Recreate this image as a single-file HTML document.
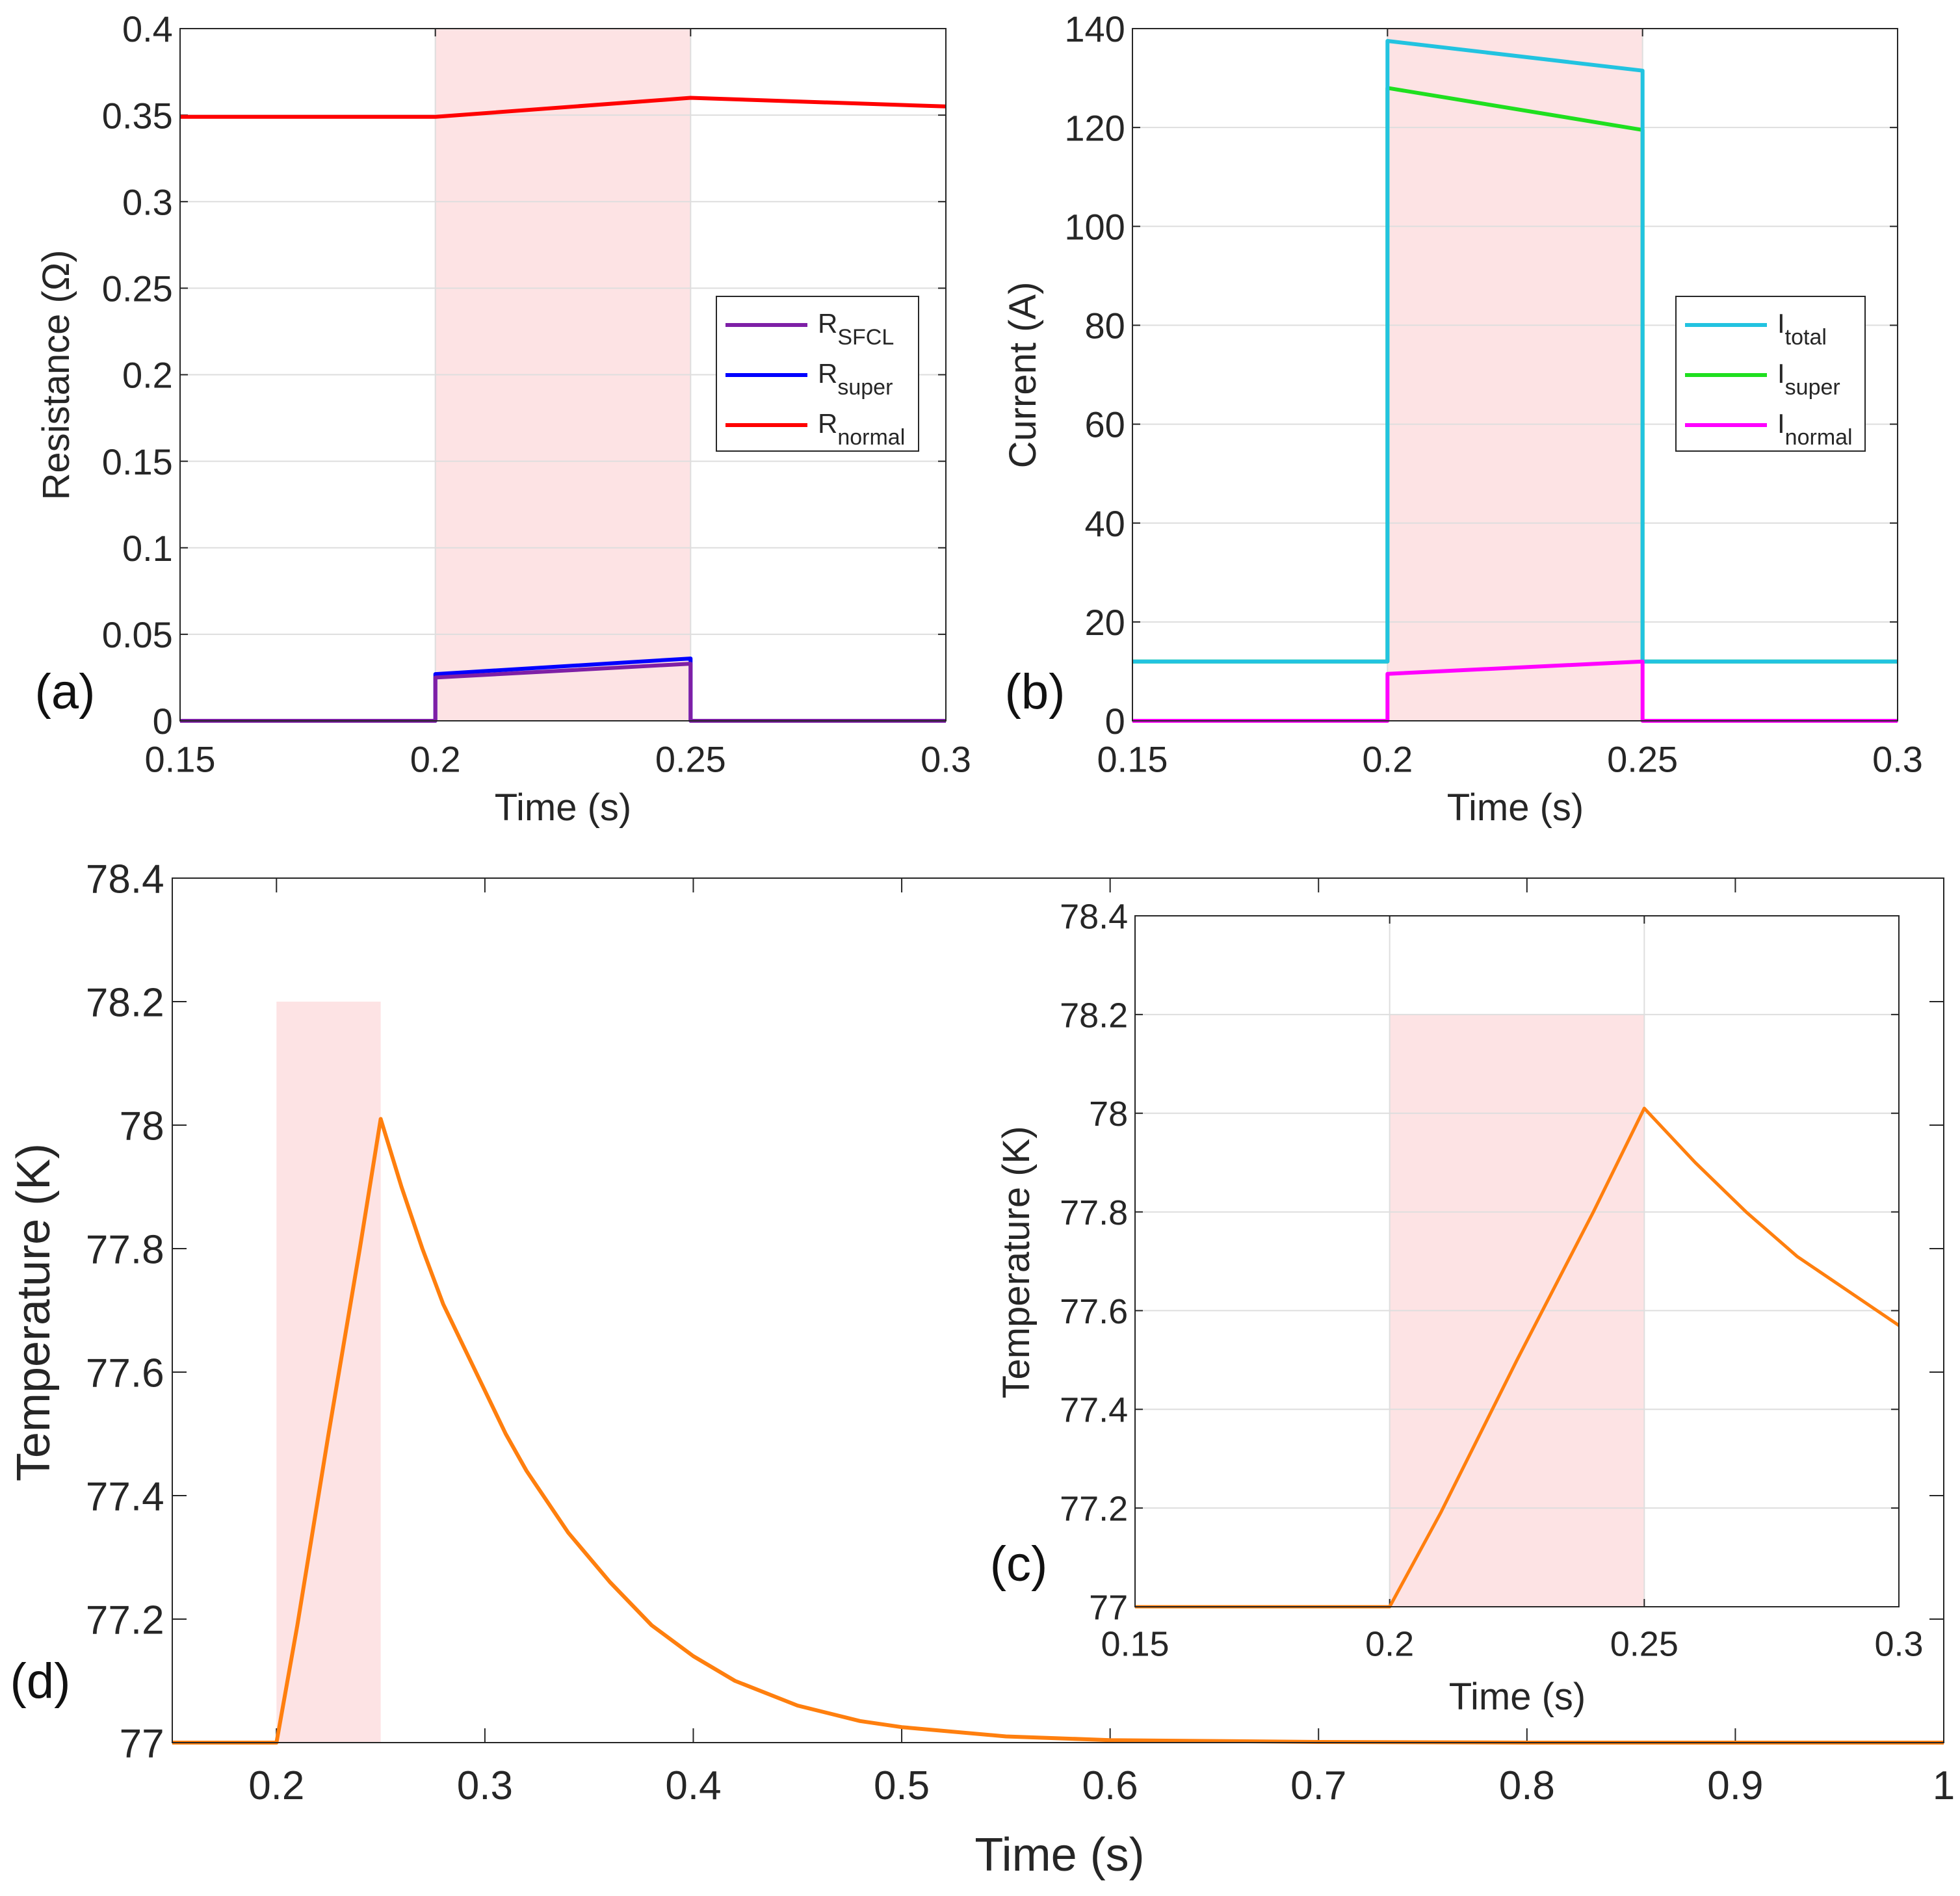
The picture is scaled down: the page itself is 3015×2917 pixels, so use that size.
<!DOCTYPE html>
<html><head><meta charset="utf-8">
<style>
html,body{margin:0;padding:0;background:#fff;}
svg{display:block;font-family:"Liberation Sans",Arial,sans-serif;}
</style></head>
<body>
<svg id="fig" width="3015" height="2917" viewBox="0 0 3015 2917" xmlns="http://www.w3.org/2000/svg"></svg>
<script>
// ---- data ----
const aTime = [0.15, 0.2, 0.2, 0.25, 0.25, 0.3];
const aRnormal = [0.349, 0.349, 0.349, 0.360, 0.360, 0.355];
const aRsuper = [0, 0, 0.027, 0.036, 0, 0];
const aRsfcl = [0, 0, 0.025, 0.033, 0, 0];
const aXTicks = [0.15, 0.2, 0.25, 0.3];
const aYTicks = [0, 0.05, 0.1, 0.15, 0.2, 0.25, 0.3, 0.35, 0.4];

const bTime = [0.15, 0.2, 0.2, 0.25, 0.25, 0.3];
const bItotal = [12, 12, 137.5, 131.5, 12, 12];
const bIsuper = [12, 12, 128, 119.5, 12, 12];
const bInormal = [0, 0, 9.5, 12, 0, 0];
const bXTicks = [0.15, 0.2, 0.25, 0.3];
const bYTicks = [0, 20, 40, 60, 80, 100, 120, 140];

const dTime = [0.15, 0.2, 0.21, 0.225, 0.24, 0.25, 0.26, 0.27, 0.28, 0.29, 0.3, 0.31, 0.32, 0.34, 0.36, 0.38, 0.4, 0.42, 0.45, 0.48, 0.5, 0.55, 0.6, 0.7, 0.8, 1.0];
const dTemp = [77, 77, 77.19, 77.5, 77.8, 78.01, 77.9, 77.8, 77.71, 77.64, 77.57, 77.5, 77.44, 77.34, 77.26, 77.19, 77.14, 77.1, 77.06, 77.035, 77.025, 77.01, 77.004, 77.001, 77.0, 77.0];
const dXTicks = [0.2, 0.3, 0.4, 0.5, 0.6, 0.7, 0.8, 0.9, 1];
const dYTicks = [77, 77.2, 77.4, 77.6, 77.8, 78, 78.2, 78.4];
const cXTicks = [0.15, 0.2, 0.25, 0.3];

const NS = "http://www.w3.org/2000/svg";
const svg = document.getElementById('fig');
let clipId = 0;
function el(tag, attrs, parent, text){
  const e = document.createElementNS(NS, tag);
  for (const k in attrs) e.setAttribute(k, attrs[k]);
  if (text !== undefined) e.textContent = text;
  (parent || svg).appendChild(e);
  return e;
}
function scale(d0, d1, r0, r1){ return v => r0 + (v - d0) / (d1 - d0) * (r1 - r0); }

function axes(o){
  const g = el('g', {});
  
  
  const sx = scale(o.xd[0], o.xd[1], o.L, o.R);
  const sy = scale(o.yd[0], o.yd[1], o.B, o.T);
  const cid = 'clip' + (clipId++);
  const cp = el('clipPath', {id:cid}, g);
  el('rect', {x:o.L, y:o.T - 10, width:o.R-o.L, height:o.B-o.T + 20}, cp);
  el('rect', {x:o.L, y:o.T, width:o.R-o.L, height:o.B-o.T, fill:'#fff'}, g);
  if (o.shade) {
    const r = el('rect', {x:sx(o.shade[0]), y:sy(o.shade[3]), width:sx(o.shade[1])-sx(o.shade[0]), height:sy(o.shade[2])-sy(o.shade[3]), fill:'#fde3e4'}, g);
    
    
  }
  if (o.grid) {
    o.yt.forEach(v => el('line', {x1:o.L, x2:o.R, y1:sy(v), y2:sy(v), stroke:'#dedede', 'stroke-width':2}, g));
    o.xt.forEach(v => el('line', {x1:sx(v), x2:sx(v), y1:o.T, y2:o.B, stroke:'#dedede', 'stroke-width':2}, g));
  }
  const tl = o.tick || 12;
  o.xt.forEach(v => {
    el('line', {x1:sx(v), x2:sx(v), y1:o.B, y2:o.B-tl, stroke:'#262626', 'stroke-width':2}, g);
    el('line', {x1:sx(v), x2:sx(v), y1:o.T, y2:o.T+tl, stroke:'#262626', 'stroke-width':2}, g);
    const t = el('text', {x:sx(v), y:o.B + o.fs*1.4, 'font-size':o.fs, fill:'#262626', 'text-anchor':'middle'}, g, String(v));
    
    
  });
  o.yt.forEach(v => {
    el('line', {x1:o.L, x2:o.L+tl, y1:sy(v), y2:sy(v), stroke:'#262626', 'stroke-width':2}, g);
    el('line', {x1:o.R, x2:o.R-tl, y1:sy(v), y2:sy(v), stroke:'#262626', 'stroke-width':2}, g);
    const t = el('text', {x:o.L - o.fs*0.2, y:sy(v) + o.fs*0.36, 'font-size':o.fs, fill:'#262626', 'text-anchor':'end'}, g, String(v));
    
    
  });
  const sg = el('g', {'clip-path':`url(#${cid})`}, g);
  o.series.forEach(s => {
    const pts = s.x.map((xv, i) => sx(xv).toFixed(1) + ',' + sy(s.y[i]).toFixed(1)).join(' ');
    const p = el('polyline', {points:pts, fill:'none', stroke:s.c, 'stroke-width':s.w || 6, 'stroke-linejoin':'round'}, sg);
    
    
  });
  el('rect', {x:o.L, y:o.T, width:o.R-o.L, height:o.B-o.T, fill:'none', stroke:'#262626', 'stroke-width':2}, g);
  const xl = el('text', {x:o.xl[0], y:o.xl[1], 'font-size':o.lfs, fill:'#262626', 'text-anchor':'middle'}, g, 'Time (s)');
  
  
  const yl = el('text', {x:0, y:0, 'font-size':o.lfs, fill:'#262626', 'text-anchor':'middle', transform:`translate(${o.yl[0]},${o.yl[1]}) rotate(-90)`}, g, o.ylabel);
  
  
  const pl = el('text', {x:o.pl[0], y:o.pl[1], 'font-size':o.pfs, fill:'#111', 'text-anchor':'middle'}, g, o.plabel);
  
  
  return {sx, sy, g};
}

function legend(x, y, w, h, items){
  const g = el('g', {});
  
  
  el('rect', {x, y, width:w, height:h, fill:'#fff', stroke:'#262626', 'stroke-width':2}, g);
  items.forEach((it, i) => {
    const cy = y + 44 + i * 77;
    const e = el('g', {}, g);
    
    
    el('line', {x1:x+14, x2:x+140, y1:cy, y2:cy, stroke:it.c, 'stroke-width':6}, e);
    const t = el('text', {x:x+156, y:cy+12, 'font-size':42, fill:'#262626'}, e, it.m);
    el('tspan', {dy:18, 'font-size':34}, t, it.s);
  });
}

// Panel (a)
axes({name:'panel-a-resistance', L:277, R:1455, T:44, B:1109, xd:[0.15,0.3], yd:[0,0.4],
  xt:aXTicks, yt:aYTicks, grid:true, fs:56, lfs:58, pfs:76, shade:[0.2,0.25,0,0.4],
  xl:[866,1262], yl:[106,577], ylabel:'Resistance (\u03A9)', pl:[100,1090], plabel:'(a)',
  series:[
    {name:'r-normal-line', x:aTime, y:aRnormal, c:'#ff0000'},
    {name:'r-super-line', x:aTime, y:aRsuper, c:'#0000ff'},
    {name:'r-sfcl-line', x:aTime, y:aRsfcl, c:'#7e1fa6'}
  ]});
legend(1102, 456, 311, 238, [{c:'#7e1fa6', m:'R', s:'SFCL'}, {c:'#0000ff', m:'R', s:'super'}, {c:'#ff0000', m:'R', s:'normal'}]);

// Panel (b)
axes({name:'panel-b-current', L:1742, R:2919, T:44, B:1109, xd:[0.15,0.3], yd:[0,140],
  xt:bXTicks, yt:bYTicks, grid:true, fs:56, lfs:58, pfs:76, shade:[0.2,0.25,0,140],
  xl:[2331,1262], yl:[1593,577], ylabel:'Current (A)', pl:[1592,1090], plabel:'(b)',
  series:[
    {name:'i-super-line', x:bTime, y:bIsuper, c:'#1fdf1f'},
    {name:'i-total-line', x:bTime, y:bItotal, c:'#22c3e0'},
    {name:'i-normal-line', x:bTime, y:bInormal, c:'#ff00ff'}
  ]});
legend(2578, 456, 291, 238, [{c:'#22c3e0', m:'I', s:'total'}, {c:'#1fdf1f', m:'I', s:'super'}, {c:'#ff00ff', m:'I', s:'normal'}]);

// Panel (d)
axes({name:'panel-d-temperature', L:265, R:2990, T:1351, B:2681, xd:[0.15,1], yd:[77,78.4],
  xt:dXTicks, yt:dYTicks, grid:false, fs:62, lfs:72, pfs:76, tick:22, shade:[0.2,0.25,77,78.2],
  xl:[1630,2878], yl:[76,2019], ylabel:'Temperature (K)', pl:[62,2612], plabel:'(d)',
  series:[{name:'temperature-line', x:dTime, y:dTemp, c:'#ff7f0e', w:6}]});

// Inset (c)
axes({name:'panel-c-inset-temperature', L:1746, R:2921, T:1409, B:2472, xd:[0.15,0.3], yd:[77,78.4],
  xt:cXTicks, yt:dYTicks, grid:true, fs:54, lfs:58, pfs:76, shade:[0.2,0.25,77,78.2],
  xl:[2334,2630], yl:[1583,1942], ylabel:'Temperature (K)', pl:[1567,2432], plabel:'(c)',
  series:[{name:'inset-temperature-line', x:dTime, y:dTemp, c:'#ff7f0e', w:5}]});
</script>
</body></html>
